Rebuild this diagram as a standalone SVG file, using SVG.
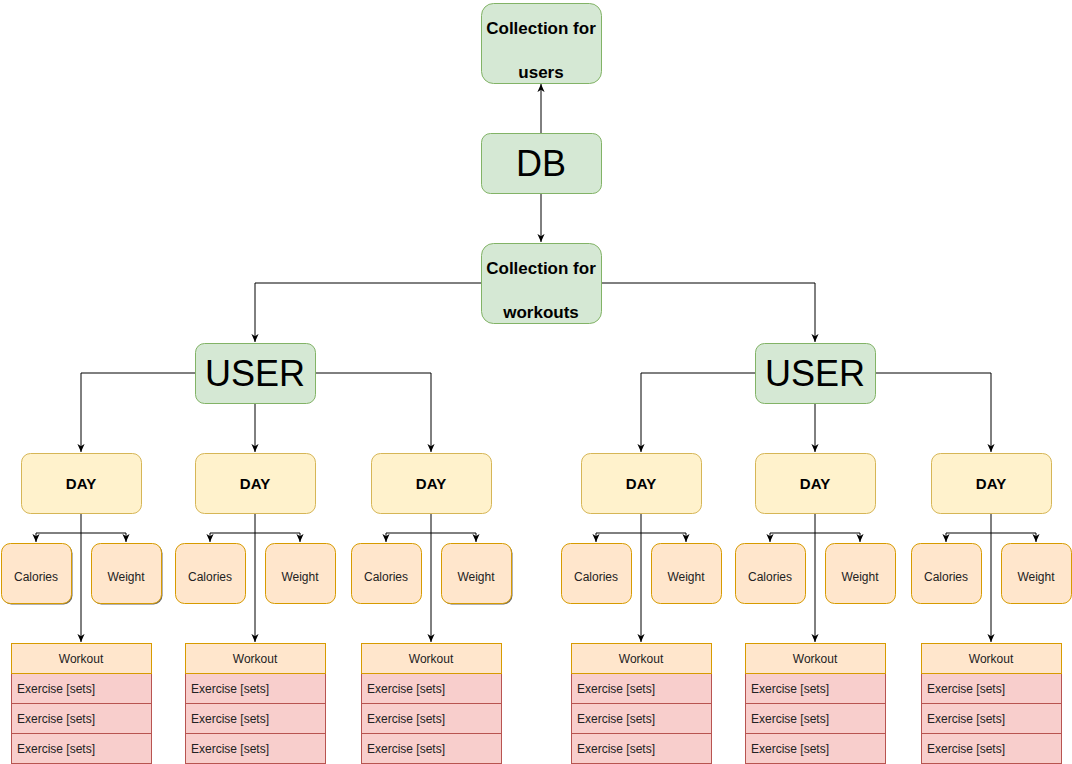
<svg xmlns="http://www.w3.org/2000/svg" width="1072" height="764" viewBox="0 0 1072 764">
<defs>
<style>
.g{fill:#d5e8d4;stroke:#82b366;stroke-width:1}
.y{fill:#fff2cc;stroke:#d6b656;stroke-width:1}
.o{fill:#ffe6cc;stroke:#d79b00;stroke-width:1}
.r{fill:#f8cecc;stroke:#b85450;stroke-width:1}
.sh{fill:#000;opacity:0.6}
text{font-family:"Liberation Sans",Arial,sans-serif;fill:#000}
.b15{font-size:15px;font-weight:bold;text-anchor:middle}
.b17{font-size:17px;font-weight:bold;text-anchor:middle}
.big{font-size:36px;text-anchor:middle}
.s12{font-size:12px;text-anchor:middle;fill:#222}
.l12{font-size:12px;fill:#222}
.c{fill:none;stroke:#000;stroke-width:1}
</style>
<marker id="a" viewBox="0 0 10 10" refX="9" refY="5" markerWidth="9" markerHeight="9" markerUnits="userSpaceOnUse" orient="auto">
<path d="M0,1 L9,5 L0,9 L2.5,5 Z" fill="#000"/>
</marker>
</defs>

<g id="connectors">
<path class="c" d="M541,133 V84" marker-end="url(#a)"/>
<path class="c" d="M541,193 V242" marker-end="url(#a)"/>
<path class="c" d="M481,283 H255 V342" marker-end="url(#a)"/>
<path class="c" d="M601,283 H815 V342" marker-end="url(#a)"/>
<path class="c" d="M195,373 H81 V452" marker-end="url(#a)"/>
<path class="c" d="M255,403 V452" marker-end="url(#a)"/>
<path class="c" d="M315,373 H431 V452" marker-end="url(#a)"/>
<path class="c" d="M755,373 H641 V452" marker-end="url(#a)"/>
<path class="c" d="M815,403 V452" marker-end="url(#a)"/>
<path class="c" d="M875,373 H991 V452" marker-end="url(#a)"/>
<path class="c" d="M81,513 V642" marker-end="url(#a)"/>
<path class="c" d="M255,513 V642" marker-end="url(#a)"/>
<path class="c" d="M431,513 V642" marker-end="url(#a)"/>
<path class="c" d="M641,513 V642" marker-end="url(#a)"/>
<path class="c" d="M815,513 V642" marker-end="url(#a)"/>
<path class="c" d="M991,513 V642" marker-end="url(#a)"/>
<path class="c" d="M81,533 H36 V542" marker-end="url(#a)"/>
<path class="c" d="M81,533 H126 V542" marker-end="url(#a)"/>
<path class="c" d="M255,533 H210 V542" marker-end="url(#a)"/>
<path class="c" d="M255,533 H300 V542" marker-end="url(#a)"/>
<path class="c" d="M431,533 H386 V542" marker-end="url(#a)"/>
<path class="c" d="M431,533 H476 V542" marker-end="url(#a)"/>
<path class="c" d="M641,533 H596 V542" marker-end="url(#a)"/>
<path class="c" d="M641,533 H686 V542" marker-end="url(#a)"/>
<path class="c" d="M815,533 H770 V542" marker-end="url(#a)"/>
<path class="c" d="M815,533 H860 V542" marker-end="url(#a)"/>
<path class="c" d="M991,533 H946 V542" marker-end="url(#a)"/>
<path class="c" d="M991,533 H1036 V542" marker-end="url(#a)"/>
</g>

<g id="coll-users"><rect class="g" x="481.5" y="3.5" width="120" height="80" rx="12"/><text class="b17" x="541" y="34">Collection for</text><text class="b17" x="541" y="78">users</text></g>
<g id="db"><rect class="g" x="481.5" y="133.5" width="120" height="60" rx="9"/><text class="big" x="541" y="176">DB</text></g>
<g id="coll-workouts"><rect class="g" x="481.5" y="243.5" width="120" height="80" rx="12"/><text class="b17" x="541" y="274">Collection for</text><text class="b17" x="541" y="318">workouts</text></g>

<g id="user-left"><rect class="g" x="195.5" y="343.5" width="120" height="60" rx="9"/><text class="big" x="255" y="386">USER</text></g>
<g id="user-right"><rect class="g" x="755.5" y="343.5" width="120" height="60" rx="9"/><text class="big" x="815" y="386">USER</text></g>

<g id="day1"><rect class="y" x="21.5" y="453.5" width="120" height="60" rx="9"/><text class="b15" x="81" y="489">DAY</text></g>
<g id="day2"><rect class="y" x="195.5" y="453.5" width="120" height="60" rx="9"/><text class="b15" x="255" y="489">DAY</text></g>
<g id="day3"><rect class="y" x="371.5" y="453.5" width="120" height="60" rx="9"/><text class="b15" x="431" y="489">DAY</text></g>
<g id="day4"><rect class="y" x="581.5" y="453.5" width="120" height="60" rx="9"/><text class="b15" x="641" y="489">DAY</text></g>
<g id="day5"><rect class="y" x="755.5" y="453.5" width="120" height="60" rx="9"/><text class="b15" x="815" y="489">DAY</text></g>
<g id="day6"><rect class="y" x="931.5" y="453.5" width="120" height="60" rx="9"/><text class="b15" x="991" y="489">DAY</text></g>

<g id="cal1"><rect class="sh" x="2.5" y="544.5" width="70" height="60" rx="9"/><rect class="o" x="1.5" y="543.5" width="70" height="60" rx="9"/><text class="s12" x="36" y="581">Calories</text></g>
<g id="wt1"><rect class="sh" x="92.5" y="544.5" width="70" height="60" rx="9"/><rect class="o" x="91.5" y="543.5" width="70" height="60" rx="9"/><text class="s12" x="126" y="581">Weight</text></g>
<g id="cal2"><rect class="o" x="175.5" y="543.5" width="70" height="60" rx="9"/><text class="s12" x="210" y="581">Calories</text></g>
<g id="wt2"><rect class="o" x="265.5" y="543.5" width="70" height="60" rx="9"/><text class="s12" x="300" y="581">Weight</text></g>
<g id="cal3"><rect class="o" x="351.5" y="543.5" width="70" height="60" rx="9"/><text class="s12" x="386" y="581">Calories</text></g>
<g id="wt3"><rect class="sh" x="442.5" y="544.5" width="70" height="60" rx="9"/><rect class="o" x="441.5" y="543.5" width="70" height="60" rx="9"/><text class="s12" x="476" y="581">Weight</text></g>
<g id="cal4"><rect class="o" x="561.5" y="543.5" width="70" height="60" rx="9"/><text class="s12" x="596" y="581">Calories</text></g>
<g id="wt4"><rect class="o" x="651.5" y="543.5" width="70" height="60" rx="9"/><text class="s12" x="686" y="581">Weight</text></g>
<g id="cal5"><rect class="o" x="735.5" y="543.5" width="70" height="60" rx="9"/><text class="s12" x="770" y="581">Calories</text></g>
<g id="wt5"><rect class="o" x="825.5" y="543.5" width="70" height="60" rx="9"/><text class="s12" x="860" y="581">Weight</text></g>
<g id="cal6"><rect class="o" x="911.5" y="543.5" width="70" height="60" rx="9"/><text class="s12" x="946" y="581">Calories</text></g>
<g id="wt6"><rect class="o" x="1001.5" y="543.5" width="70" height="60" rx="9"/><text class="s12" x="1036" y="581">Weight</text></g>

<g id="workout1"><rect class="r" x="11.5" y="643.5" width="140" height="120"/><rect class="o" x="11.5" y="643.5" width="140" height="30"/><line class="r" x1="11.5" y1="703.5" x2="151.5" y2="703.5"/><line class="r" x1="11.5" y1="733.5" x2="151.5" y2="733.5"/><text class="s12" x="81" y="663">Workout</text><text class="l12" x="17" y="693">Exercise [sets]</text><text class="l12" x="17" y="723">Exercise [sets]</text><text class="l12" x="17" y="753">Exercise [sets]</text></g>
<g id="workout2"><rect class="r" x="185.5" y="643.5" width="140" height="120"/><rect class="o" x="185.5" y="643.5" width="140" height="30"/><line class="r" x1="185.5" y1="703.5" x2="325.5" y2="703.5"/><line class="r" x1="185.5" y1="733.5" x2="325.5" y2="733.5"/><text class="s12" x="255" y="663">Workout</text><text class="l12" x="191" y="693">Exercise [sets]</text><text class="l12" x="191" y="723">Exercise [sets]</text><text class="l12" x="191" y="753">Exercise [sets]</text></g>
<g id="workout3"><rect class="r" x="361.5" y="643.5" width="140" height="120"/><rect class="o" x="361.5" y="643.5" width="140" height="30"/><line class="r" x1="361.5" y1="703.5" x2="501.5" y2="703.5"/><line class="r" x1="361.5" y1="733.5" x2="501.5" y2="733.5"/><text class="s12" x="431" y="663">Workout</text><text class="l12" x="367" y="693">Exercise [sets]</text><text class="l12" x="367" y="723">Exercise [sets]</text><text class="l12" x="367" y="753">Exercise [sets]</text></g>
<g id="workout4"><rect class="r" x="571.5" y="643.5" width="140" height="120"/><rect class="o" x="571.5" y="643.5" width="140" height="30"/><line class="r" x1="571.5" y1="703.5" x2="711.5" y2="703.5"/><line class="r" x1="571.5" y1="733.5" x2="711.5" y2="733.5"/><text class="s12" x="641" y="663">Workout</text><text class="l12" x="577" y="693">Exercise [sets]</text><text class="l12" x="577" y="723">Exercise [sets]</text><text class="l12" x="577" y="753">Exercise [sets]</text></g>
<g id="workout5"><rect class="r" x="745.5" y="643.5" width="140" height="120"/><rect class="o" x="745.5" y="643.5" width="140" height="30"/><line class="r" x1="745.5" y1="703.5" x2="885.5" y2="703.5"/><line class="r" x1="745.5" y1="733.5" x2="885.5" y2="733.5"/><text class="s12" x="815" y="663">Workout</text><text class="l12" x="751" y="693">Exercise [sets]</text><text class="l12" x="751" y="723">Exercise [sets]</text><text class="l12" x="751" y="753">Exercise [sets]</text></g>
<g id="workout6"><rect class="r" x="921.5" y="643.5" width="140" height="120"/><rect class="o" x="921.5" y="643.5" width="140" height="30"/><line class="r" x1="921.5" y1="703.5" x2="1061.5" y2="703.5"/><line class="r" x1="921.5" y1="733.5" x2="1061.5" y2="733.5"/><text class="s12" x="991" y="663">Workout</text><text class="l12" x="927" y="693">Exercise [sets]</text><text class="l12" x="927" y="723">Exercise [sets]</text><text class="l12" x="927" y="753">Exercise [sets]</text></g>
</svg>
